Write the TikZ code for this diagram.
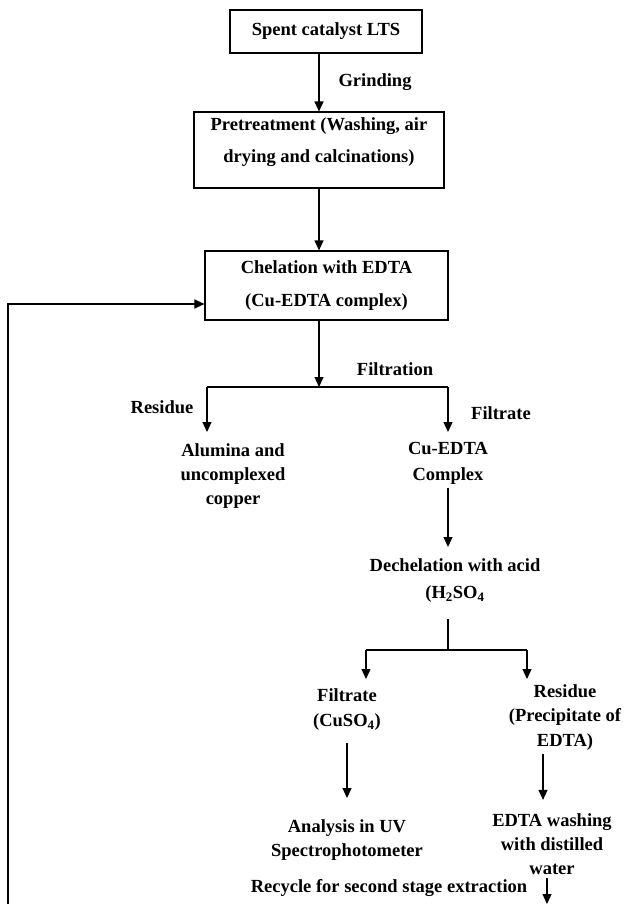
\documentclass[tikz,border=0pt]{standalone}
\usepackage{fontspec}
\setmainfont{Liberation Serif}
\usepackage{tikz}
\usetikzlibrary{positioning,arrows.meta}
\tikzset{
  every node/.style={
    font=\fontsize{18.5}{25}\selectfont\bfseries,
    align=center,
    inner sep=3pt
  },
  stagebox/.style={draw, line width=1.2pt},
  flow/.style={-{Triangle[length=10pt,width=9pt]}}
}

\begin{document}
\begin{tikzpicture}[x=1pt, y=-1pt, line width=1.2pt]
          \useasboundingbox (0,0) rectangle (625,904);
          \node[stagebox, minimum width=192pt, minimum height=43pt] (Spent) at (326,31.5) {Spent catalyst LTS};
          \node[on grid, below left=118.5pt and 7pt of Spent, stagebox, minimum width=250pt, inner ysep=6pt, text depth=19pt, font=\fontsize{18.5}{32}\selectfont\bfseries] (Pretreat) {Pretreatment (Washing, air\\drying and calcinations)};
          \node[on grid, below right=135.5pt and 7.5pt of Pretreat, stagebox, minimum width=243pt, minimum height=69pt, font=\fontsize{18.5}{33}\selectfont\bfseries] (Chelate) {Chelation with EDTA\\(Cu-EDTA complex)};
          \node[on grid, below right=50.5pt and 49pt of Spent] (Grind) {Grinding};
          \node[on grid, below right=83.5pt and 68.5pt of Chelate] (Filtration) {Filtration};
          \node[on grid, below left=190.5pt and 93.5pt of Chelate, font=\fontsize{18.5}{24}\selectfont\bfseries] (Alumina) {Alumina and\\uncomplexed\\copper};
          \node[on grid, below right=177.5pt and 121.5pt of Chelate, font=\fontsize{18.5}{26}\selectfont\bfseries] (CuComplex) {Cu-EDTA\\Complex};
          \node[on grid, above left=69pt and 71pt of Alumina] (ResidueA) {Residue};
          \node[on grid, above right=50pt and 53pt of CuComplex] (FiltrateA) {Filtrate};
          \node[on grid, below right=117.5pt and 7pt of CuComplex, font=\fontsize{18.5}{27}\selectfont\bfseries] (Dechel) {Dechelation with acid\\(H\textsubscript{2}SO\textsubscript{4}};
          \node[on grid, below left=129pt and 108pt of Dechel] (CuSulfate) {Filtrate\\(CuSO\textsubscript{4})};
          \node[on grid, below right=137pt and 110pt of Dechel, font=\fontsize{18.5}{24.5}\selectfont\bfseries] (Precip) {Residue\\(Precipitate of\\EDTA)};
          \node[on grid, below=130.5pt of CuSulfate, font=\fontsize{18.5}{24}\selectfont\bfseries] (Analysis) {Analysis in UV\\Spectrophotometer};
          \node[on grid, below left=126.5pt and 13pt of Precip, font=\fontsize{18.5}{24}\selectfont\bfseries] (Washing) {EDTA washing\\with distilled\\water};
          \node[on grid, below right=48pt and 42pt of Analysis] (Recycle) {Recycle for second stage extraction};
          % split points and loose ends
          \coordinate (split) at (319,387);
          \coordinate (splitL) at (207,387);
          \coordinate (splitR) at (448,387);
          \coordinate (split2) at (448,650);
          \coordinate (split2L) at (366,650);
          \coordinate (split2R) at (527,650);
          \coordinate (loopEnd) at (8,904);
          \coordinate (recycleEnd) at (547,904);
          \draw[flow] (Spent.south -| Pretreat) -- (Pretreat.north);
          \draw[flow] (Pretreat.south) -- (Pretreat.south |- Chelate.north);
          \draw[flow] (Chelate.south -| split) -- (split);
          \draw (splitL) -- (splitR);
          \draw[flow] (splitL) -- ++(0,45);
          \draw[flow] (splitR) -- ++(0,45);
          \draw[flow, shorten >=8pt] (CuComplex.south) -- (CuComplex.south |- Dechel.north);
          \draw (split2) -- ++(0,-31);
          \draw (split2L) -- (split2R);
          \draw[flow] (split2L) -- ++(0,29);
          \draw[flow] (split2R) -- ++(0,29);
          \draw[flow, shorten <=9pt, shorten >=18pt] (CuSulfate) -- (Analysis);
          \draw[flow, shorten >=10pt] ([xshift=-22pt]Precip.south) -- ([xshift=-22pt]Precip.south |- Washing.north);
          \draw[flow] (Washing.south -| recycleEnd) -- (recycleEnd);
          \draw[flow] (loopEnd) |- ([yshift=-18.5pt]Chelate.west);
        \end{tikzpicture}
\end{document}
